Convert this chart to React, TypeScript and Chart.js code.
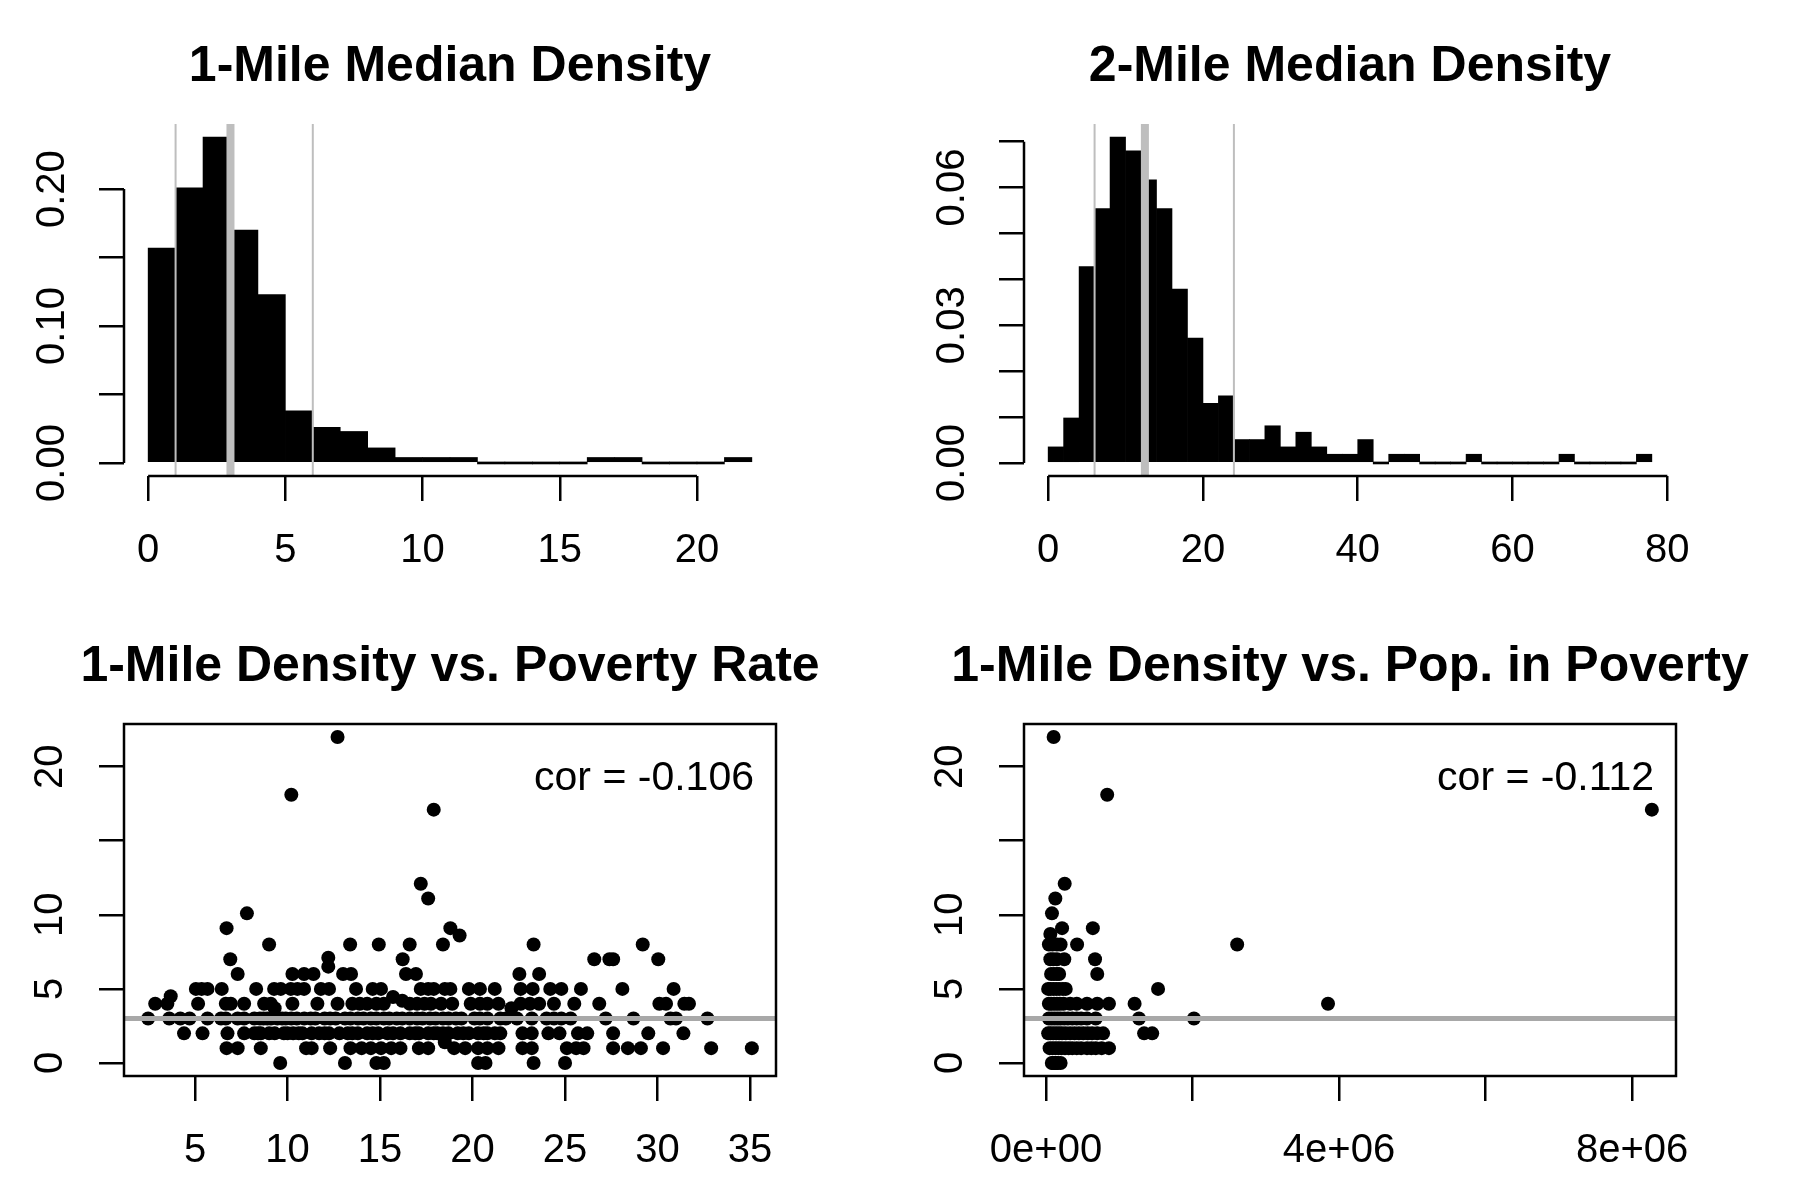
import React, { useEffect, useRef } from 'react';
import { Chart, registerables } from 'chart.js';

Chart.register(...registerables);

const FONT = "'Liberation Sans', Arial, Helvetica, sans-serif";

// ---------- Panel 1: 1-Mile Median Density (histogram, density scale) ----------
const hist1Title = '1-Mile Median Density';
const hist1Breaks = [0, 1, 2, 3, 4, 5, 6, 7, 8, 9, 10, 11, 12, 13, 14, 15, 16, 17, 18, 19, 20, 21, 22];
const hist1Density = [0.157, 0.201, 0.238, 0.170, 0.123, 0.038, 0.026, 0.023, 0.011, 0.004, 0.004, 0.004, 0, 0, 0, 0, 0.004, 0.004, 0, 0, 0, 0.004];
const hist1Quantiles = [1, 3, 6];
const hist1XTicks = [0, 5, 10, 15, 20];
const hist1XLabels = ['0', '5', '10', '15', '20'];
const hist1YTicks = [0, 0.05, 0.1, 0.15, 0.2];
const hist1YLabels = ['0.00', '', '0.10', '', '0.20'];

// ---------- Panel 2: 2-Mile Median Density ----------
const hist2Title = '2-Mile Median Density';
const hist2Breaks = [0, 2, 4, 6, 8, 10, 12, 14, 16, 18, 20, 22, 24, 26, 28, 30, 32, 34, 36, 38, 40, 42, 44, 46, 48, 50, 52, 54, 56, 58, 60, 62, 64, 66, 68, 70, 72, 74, 76, 78];
const hist2Density = [0.0035, 0.0098, 0.0428, 0.0554, 0.0710, 0.0680, 0.0617, 0.0554, 0.0379, 0.0272, 0.0130, 0.0146, 0.0051, 0.0051, 0.0081, 0.0035, 0.0067, 0.0035, 0.0019, 0.0019, 0.0051, 0, 0.0019, 0.0019, 0, 0, 0, 0.0019, 0, 0, 0, 0, 0, 0.0019, 0, 0, 0, 0, 0.0019];
const hist2Quantiles = [6, 12.5, 24];
const hist2XTicks = [0, 20, 40, 60, 80];
const hist2XLabels = ['0', '20', '40', '60', '80'];
const hist2YTicks = [0, 0.01, 0.02, 0.03, 0.04, 0.05, 0.06, 0.07];
const hist2YLabels = ['0.00', '', '', '0.03', '', '', '0.06', ''];

// ---------- Panel 3: 1-Mile Density vs. Poverty Rate ----------
const scatter1Title = '1-Mile Density vs. Poverty Rate';
const scatter1Cor = 'cor = -0.106';
const densityVsRate: [number, number][] = [
  [9.6, 0], [13.1, 0], [14.8, 0], [15.2, 0], [20.3, 0], [20.7, 0], [23.3, 0], [25.0, 0],
  [6.7, 1], [7.3, 1], [8.55, 1], [11.0, 1], [11.3, 1], [12.3, 1], [13.4, 1], [14.0, 1], [14.5, 1], [15.05, 1],
  [15.6, 1], [16.1, 1], [17.1, 1], [17.6, 1], [18.5, 1.4], [19.0, 1], [19.6, 1], [20.3, 1], [20.8, 1], [21.4, 1],
  [22.7, 1], [23.2, 1], [25.1, 1], [25.6, 1], [26.0, 1], [27.6, 1], [28.4, 1], [29.1, 1], [30.3, 1], [32.9, 1], [35.1, 1],
  [4.4, 2], [5.4, 2], [6.75, 2], [7.65, 2], [8.2, 2], [8.55, 2], [9.0, 2], [9.8, 2], [10.3, 2], [10.8, 2],
  [11.3, 2], [11.7, 2], [12.24, 2], [12.8, 2], [13.25, 2], [13.8, 2], [14.3, 2], [14.9, 2], [15.4, 2], [16.1, 2],
  [16.6, 2], [17.1, 2], [17.6, 2], [18.1, 2], [18.7, 2], [19.2, 2], [19.8, 2], [20.3, 2], [20.8, 2], [21.5, 2],
  [22.7, 2], [23.2, 2], [24.1, 2], [24.7, 2], [25.7, 2], [26.2, 2], [27.6, 2], [29.5, 2], [31.4, 2],
  [8.4, 2], [9.3, 2], [10.0, 2], [10.6, 2], [12.0, 2], [13.5, 2], [14.6, 2], [15.7, 2], [16.9, 2], [17.9, 2],
  [18.4, 2], [19.5, 2], [20.6, 2], [21.2, 2],
  [2.46, 3], [3.6, 3], [4.2, 3], [4.7, 3], [5.67, 3], [6.4, 3], [6.66, 3], [7.3, 3], [7.65, 3], [8.2, 3],
  [8.5, 3], [8.7, 3], [9.1, 3], [9.45, 3], [9.9, 3], [10.2, 3], [10.5, 3], [10.9, 3], [11.25, 3], [12.0, 3],
  [12.3, 3], [13.1, 3], [13.8, 3], [14.5, 3], [15.2, 3], [15.9, 3], [16.6, 3], [17.3, 3], [18.0, 3], [18.7, 3],
  [19.4, 3], [20.1, 3], [20.8, 3], [21.5, 3], [22.4, 3], [23.2, 3], [24.0, 3], [24.4, 3], [24.8, 3], [25.3, 3],
  [27.2, 3], [28.7, 3], [30.7, 3], [31.0, 3], [32.7, 3],
  [8.9, 3], [9.7, 3], [11.5, 3], [12.6, 3], [13.4, 3], [14.1, 3], [14.8, 3], [15.5, 3], [16.2, 3], [17.0, 3],
  [17.7, 3], [18.4, 3], [19.1, 3], [20.4, 3], [21.8, 3],
  [2.84, 4], [3.5, 4], [3.68, 4.5], [5.16, 4], [6.66, 4], [6.93, 4], [7.65, 4], [8.73, 4], [9.09, 4], [9.3, 3.7],
  [10.26, 4], [11.61, 4], [12.7, 4], [13.5, 4], [13.9, 4], [14.3, 4], [14.8, 4], [15.2, 4], [15.7, 4.45], [16.2, 4.2],
  [16.6, 4], [17.0, 4], [17.4, 4], [17.75, 4], [18.3, 4], [18.9, 4], [19.9, 4], [20.4, 4], [20.8, 4], [21.4, 4],
  [22.1, 3.7], [22.6, 4], [23.1, 4], [23.6, 4], [24.4, 4], [25.5, 4], [26.85, 4], [30.1, 4], [30.46, 4], [31.45, 4], [31.7, 4],
  [5.04, 5], [5.35, 5], [5.67, 5], [6.44, 5], [8.3, 5], [9.27, 5], [9.63, 5], [10.17, 5], [10.53, 5], [10.89, 5],
  [11.8, 5], [12.24, 5], [13.7, 5], [14.6, 5], [15.05, 5], [17.2, 5], [17.6, 5], [17.9, 5], [18.5, 5], [18.8, 5],
  [19.8, 5], [20.4, 5], [21.2, 5], [22.6, 5], [23.25, 5], [24.2, 5], [24.8, 5], [25.86, 5], [28.1, 5], [30.87, 5],
  [7.3, 6], [10.26, 6], [10.89, 6], [11.4, 6], [13.0, 6], [13.43, 6], [16.4, 6], [16.94, 6], [22.53, 6], [23.6, 6],
  [6.9, 7], [12.2, 7.1], [12.2, 6.5], [16.22, 7], [26.58, 7], [27.4, 7], [27.6, 7], [30.04, 7],
  [9.0, 8], [13.38, 8], [14.93, 8], [16.6, 8], [18.4, 8], [23.3, 8], [29.2, 8],
  [6.7, 9.1], [18.8, 9.1], [19.3, 8.6], [7.8, 10.1], [17.6, 11.1], [17.2, 12.1], [17.9, 17.1], [10.2, 18.1], [12.7, 22.0],
];
const scatter1XTicks = [5, 10, 15, 20, 25, 30, 35];
const scatter1XLabels = ['5', '10', '15', '20', '25', '30', '35'];

// ---------- Panel 4: 1-Mile Density vs. Pop. in Poverty ----------
const scatter2Title = '1-Mile Density vs. Pop. in Poverty';
const scatter2Cor = 'cor = -0.112';
const densityVsPop: [number, number][] = [
  [80000, 0], [100000, 0], [120000, 0], [140000, 0], [160000, 0], [200000, 0],
  [50000, 1], [90000, 1], [130000, 1], [170000, 1], [210000, 1], [260000, 1], [310000, 1], [360000, 1],
  [420000, 1], [480000, 1], [560000, 1], [620000, 1], [680000, 1], [760000, 1], [860000, 1],
  [30000, 2], [60000, 2], [100000, 2], [140000, 2], [180000, 2], [220000, 2], [270000, 2], [330000, 2], [390000, 2],
  [450000, 2], [510000, 2], [570000, 2], [630000, 2], [700000, 2], [780000, 2], [1340000, 2], [1450000, 2],
  [40000, 3], [80000, 3], [120000, 3], [160000, 3], [200000, 3], [250000, 3], [300000, 3], [360000, 3],
  [420000, 3], [480000, 3], [560000, 3], [680000, 3], [1270000, 3], [2020000, 3],
  [40000, 4], [70000, 4], [110000, 4], [150000, 4], [190000, 4], [240000, 4], [330000, 4], [420000, 4],
  [560000, 4], [700000, 4], [860000, 4], [1210000, 4], [3850000, 4],
  [30000, 5], [60000, 5], [100000, 5], [140000, 5], [180000, 5], [230000, 5], [270000, 5], [1530000, 5],
  [70000, 6], [110000, 6], [150000, 6], [180000, 6], [700000, 6],
  [60000, 7], [100000, 7], [150000, 7], [250000, 7], [670000, 7],
  [40000, 8], [90000, 8], [150000, 8], [200000, 8], [425000, 8], [2610000, 8],
  [60000, 8.7], [220000, 9.1], [640000, 9.1], [82000, 10.1], [128000, 11.1], [256000, 12.1],
  [836000, 18.1], [105000, 22.0], [8270000, 17.1],
];
const scatter2XTicks = [0, 2000000, 4000000, 6000000, 8000000];
const scatter2XLabels = ['0e+00', '', '4e+06', '', '8e+06'];

const scatterYTicks = [0, 5, 10, 15, 20];
const scatterYLabels = ['0', '5', '10', '', '20'];

// ---------- helpers ----------
const rRange = (lo: number, hi: number): [number, number] => {
  const d = (hi - lo) * 0.04;
  return [lo - d, hi + d];
};

const MARGIN = 124;

const zeroPad = (s: any) => {
  s.paddingLeft = 0;
  s.paddingRight = 0;
  s.paddingTop = 0;
  s.paddingBottom = 0;
};

function rAxis(pos: 'x' | 'y', min: number, max: number, ticks: number[], labels: string[], padding: number): any {
  const isY = pos === 'y';
  return {
    type: 'linear',
    position: isY ? 'left' : 'bottom',
    min,
    max,
    bounds: 'data',
    offset: false,
    border: { display: false },
    grid: {
      display: true,
      drawOnChartArea: false,
      drawTicks: true,
      tickLength: 25,
      tickColor: '#000',
      tickWidth: 2.5,
      lineWidth: 2.5,
      offset: false,
    },
    ticks: {
      color: '#000',
      font: { family: FONT, size: 40 },
      padding,
      autoSkip: false,
      minRotation: isY ? 90 : 0,
      maxRotation: isY ? 90 : 0,
      crossAlign: isY ? 'center' : 'near',
      callback: (_v: number, i: number) => labels[i] ?? '',
    },
    afterBuildTicks: (s: any) => {
      s.ticks = ticks.map((value) => ({ value }));
    },
    afterFit: (s: any) => {
      if (isY) s.width = MARGIN;
      else s.height = MARGIN;
      zeroPad(s);
    },
  };
}

// empty right-hand margin (R's right plot margin)
const rightMargin: any = {
  type: 'linear',
  position: 'right',
  display: true,
  grid: { display: false, drawTicks: false },
  ticks: { display: false },
  border: { display: false },
  afterFit: (s: any) => {
    s.width = MARGIN;
    zeroPad(s);
  },
};

const titleOpts = (text: string) => ({
  display: true,
  text,
  color: '#000',
  font: { family: FONT, size: 50, weight: 'bold' as const },
  padding: { top: 37, bottom: 27 },
});

const rAxesLines = {
  id: 'rAxesLines',
  afterDraw(chart: any) {
    const { ctx, scales } = chart;
    const xs = scales.x;
    const ys = scales.y;
    const xt = xs.ticks;
    const yt = ys.ticks;
    ctx.save();
    ctx.strokeStyle = '#000';
    ctx.lineWidth = 2.5;
    ctx.beginPath();
    ctx.moveTo(xs.getPixelForValue(xt[0].value), xs.top);
    ctx.lineTo(xs.getPixelForValue(xt[xt.length - 1].value), xs.top);
    ctx.moveTo(ys.right, ys.getPixelForValue(yt[0].value));
    ctx.lineTo(ys.right, ys.getPixelForValue(yt[yt.length - 1].value));
    ctx.stroke();
    ctx.restore();
  },
};

const rBox = {
  id: 'rBox',
  afterDraw(chart: any) {
    const { ctx, chartArea } = chart;
    ctx.save();
    ctx.strokeStyle = '#000';
    ctx.lineWidth = 2.5;
    ctx.strokeRect(chartArea.left, chartArea.top, chartArea.right - chartArea.left, chartArea.bottom - chartArea.top);
    ctx.restore();
  },
};

const corText = (text: string) => ({
  id: 'corText',
  afterDatasetsDraw(chart: any) {
    const { ctx, chartArea } = chart;
    ctx.save();
    ctx.font = `41px ${FONT}`;
    ctx.fillStyle = '#000';
    ctx.textAlign = 'right';
    ctx.textBaseline = 'alphabetic';
    ctx.fillText(text, chartArea.right - 22, chartArea.top + 66);
    ctx.restore();
  },
});

function makeHist(
  canvas: HTMLCanvasElement,
  title: string,
  breaks: number[],
  density: number[],
  quantiles: number[],
  xTicks: number[],
  xLabels: string[],
  yTicks: number[],
  yLabels: string[],
) {
  const [x0, x1] = rRange(breaks[0], breaks[breaks.length - 1]);
  const [y0, y1] = rRange(0, Math.max(...density));
  const bars = density.map((d, i) => ({ x: (breaks[i] + breaks[i + 1]) / 2, y: d }));
  return new Chart(canvas, {
    type: 'bar',
    data: {
      datasets: [
        ...quantiles.map((q, i) => ({
          type: 'line' as const,
          data: [{ x: q, y: y0 }, { x: q, y: y1 }],
          borderColor: '#BEBEBE',
          borderWidth: i === 1 ? 8 : 2,
          pointRadius: 0,
          order: 0,
        })),
        {
          type: 'bar' as const,
          data: bars,
          backgroundColor: '#000',
          borderColor: '#000',
          borderWidth: 0,
          barPercentage: 1,
          categoryPercentage: 1,
          minBarLength: 2,
          order: 1,
        },
      ],
    } as any,
    options: {
      animation: false,
      responsive: false,
      devicePixelRatio: 1,
      layout: { padding: 0 },
      plugins: {
        legend: { display: false },
        tooltip: { enabled: false },
        title: titleOpts(title),
      },
      scales: {
        x: rAxis('x', x0, x1, xTicks, xLabels, 26),
        y: rAxis('y', y0, y1, yTicks, yLabels, 7.6),
        yRight: rightMargin,
      },
    } as any,
    plugins: [rAxesLines],
  });
}

function makeScatter(
  canvas: HTMLCanvasElement,
  title: string,
  points: [number, number][],
  refLine: number,
  cor: string,
  xTicks: number[],
  xLabels: string[],
) {
  const xs = points.map((p) => p[0]);
  const ys = points.map((p) => p[1]);
  const [x0, x1] = rRange(Math.min(...xs), Math.max(...xs));
  const [y0, y1] = rRange(Math.min(...ys), Math.max(...ys));
  return new Chart(canvas, {
    type: 'scatter',
    data: {
      datasets: [
        {
          type: 'line' as const,
          data: [{ x: x0, y: refLine }, { x: x1, y: refLine }],
          borderColor: '#A8A8A8',
          borderWidth: 5,
          pointRadius: 0,
          order: 0,
        },
        {
          data: points.map(([x, y]) => ({ x, y })),
          pointRadius: 7,
          pointBackgroundColor: '#000',
          pointBorderWidth: 0,
          backgroundColor: '#000',
          borderColor: '#000',
          order: 1,
        },
      ],
    } as any,
    options: {
      animation: false,
      responsive: false,
      devicePixelRatio: 1,
      layout: { padding: 0 },
      plugins: {
        legend: { display: false },
        tooltip: { enabled: false },
        title: titleOpts(title),
      },
      scales: {
        x: rAxis('x', x0, x1, xTicks, xLabels, 26),
        y: rAxis('y', y0, y1, scatterYTicks, scatterYLabels, 25.8),
        yRight: rightMargin,
      },
    } as any,
    plugins: [rBox, corText(cor)],
  });
}

function Panel({ make }: { make: (c: HTMLCanvasElement) => Chart }) {
  const ref = useRef<HTMLCanvasElement>(null);
  useEffect(() => {
    const chart = make(ref.current as HTMLCanvasElement);
    return () => chart.destroy();
  }, []);
  return <canvas ref={ref} width={900} height={600} style={{ display: 'block', width: 900, height: 600 }} />;
}

export default function App() {
  return (
    <div
      style={{
        position: 'absolute',
        left: 0,
        top: 0,
        width: 1800,
        height: 1200,
        background: '#fff',
        display: 'grid',
        gridTemplateColumns: '900px 900px',
        gridTemplateRows: '600px 600px',
      }}
    >
      <Panel make={(c) => makeHist(c, hist1Title, hist1Breaks, hist1Density, hist1Quantiles, hist1XTicks, hist1XLabels, hist1YTicks, hist1YLabels)} />
      <Panel make={(c) => makeHist(c, hist2Title, hist2Breaks, hist2Density, hist2Quantiles, hist2XTicks, hist2XLabels, hist2YTicks, hist2YLabels)} />
      <Panel make={(c) => makeScatter(c, scatter1Title, densityVsRate, hist1Quantiles[1], scatter1Cor, scatter1XTicks, scatter1XLabels)} />
      <Panel make={(c) => makeScatter(c, scatter2Title, densityVsPop, hist1Quantiles[1], scatter2Cor, scatter2XTicks, scatter2XLabels)} />
    </div>
  );
}
